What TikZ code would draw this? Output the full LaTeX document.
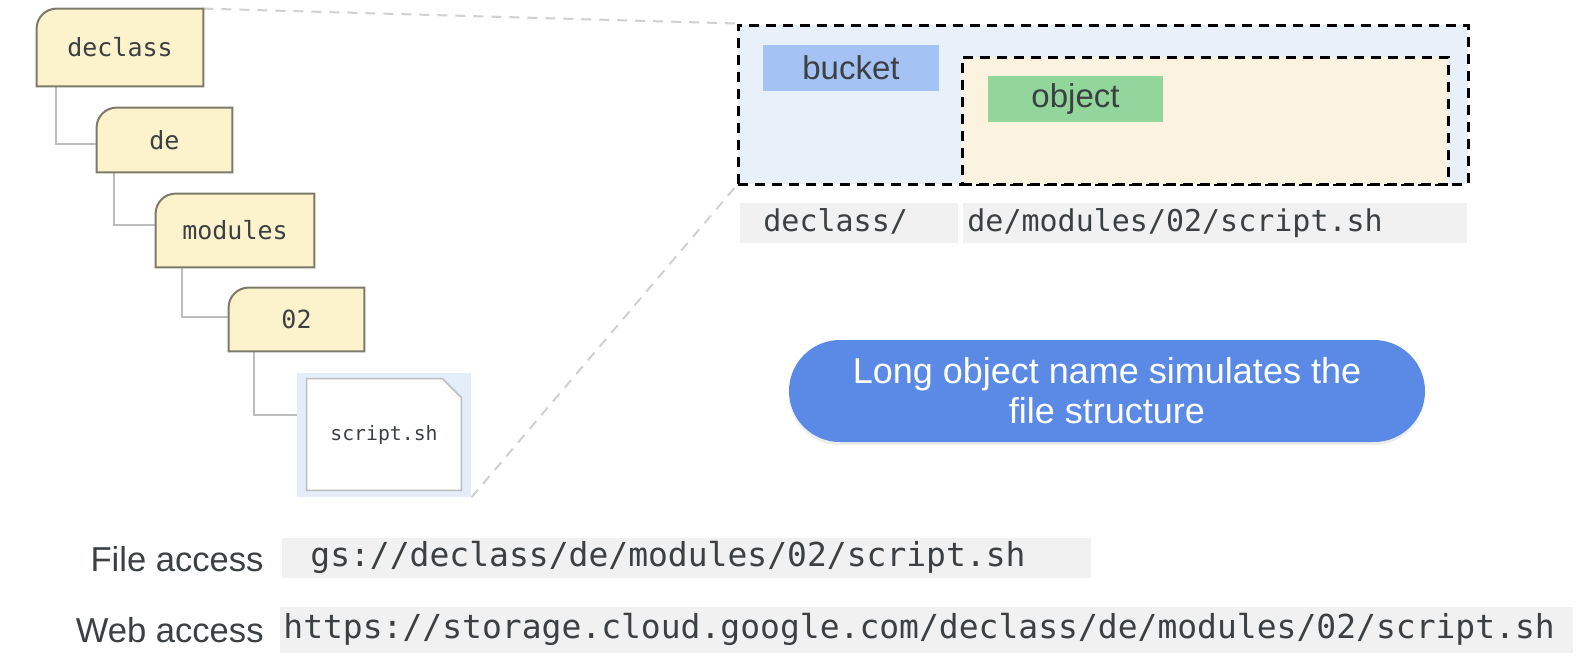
\documentclass[tikz,border=0pt]{standalone}
\usepackage{fontspec}
\setmainfont{Liberation Sans}
\setmonofont{DejaVu Sans Mono}
\usetikzlibrary{backgrounds, shadows}

\definecolor{foldfill}{HTML}{FCF2CC}
\definecolor{folddraw}{HTML}{7D7A6A}
\definecolor{treegray}{HTML}{BDBDBD}
\definecolor{zoomgray}{HTML}{D0D0D0}
\definecolor{filebg}{HTML}{E3EEF9}
\definecolor{bucketfill}{HTML}{E8F0FA}
\definecolor{objectfill}{HTML}{FCF2E0}
\definecolor{bucketblue}{HTML}{A4C2F4}
\definecolor{objectgreen}{HTML}{93D69C}
\definecolor{cellgray}{HTML}{F1F1F1}
\definecolor{pillblue}{HTML}{5A8AE6}
\definecolor{inkgray}{HTML}{3C4043}

\tikzset{
  folder/.style 2 args={minimum width=#1, minimum height=#2, inner sep=0pt, text=inkgray,
    font=\ttfamily\fontsize{12.5}{14}\selectfont},
  tree/.style={draw=treegray, line width=1pt},
  zoomline/.style={draw=zoomgray, line width=1pt, dash pattern=on 5pt off 4pt},
  dashbox/.style={draw=black, line width=1.5pt, dash pattern=on 5pt off 3.5pt, inner sep=0pt},
  tag/.style={minimum width=#1, minimum height=23pt, inner sep=0pt, text=inkgray,
    font=\fontsize{16.5}{18}\selectfont},
  cell/.style={fill=cellgray, anchor=west, align=left, inner ysep=0pt, text=inkgray,
    text height=11pt, text depth=3pt}
}
\newcommand{\foldershape}[1]{%
  \filldraw[fill=foldfill, draw=folddraw, line width=1pt] (#1.south west)
    -- ([yshift=-10pt]#1.north west) arc[start angle=180, end angle=90, radius=10pt]
    -- (#1.north east) -- (#1.south east) -- cycle;}

\begin{document}
\begin{tikzpicture}[x=0.5pt, y=-0.5pt]
  \useasboundingbox (0,0) rectangle (1576,660);

  % folder tree
  \node[folder={83pt}{38.5pt}] (fdeclass) at (120,47.5) {declass};
  \node[folder={67.5pt}{32pt}] (fde) at (164.5,140) {de};
  \node[folder={79pt}{36.5pt}] (fmodules) at (235,230.5) {modules};
  \node[folder={67.5pt}{31.5pt}] (f02) at (296.5,319.5) {02};
  \node[minimum width=87pt, minimum height=62pt, inner sep=0pt, text=inkgray,
    font=\ttfamily\fontsize{9.9}{11}\selectfont] (script) at (384,435) {script.sh};

  % bucket and object
  \node[dashbox, fill=bucketfill, minimum width=365pt, minimum height=79.5pt] (bucketbox) at (1103,104.5) {};
  \node[dashbox, fill=objectfill, minimum width=243pt, minimum height=63.5pt] (objectbox) at (1205,120.5) {};
  \node[tag=88pt, fill=bucketblue] (bucket) at (851,68) {bucket};
  \node[tag=87.5pt, fill=objectgreen] (object) at (1075.5,99) {object};

  \node[cell, text width=86pt, inner xsep=11.5pt, minimum height=20pt, font=\ttfamily\fontsize{15}{17}\selectfont]
    (bucketname) at (740,223) {declass/};
  \node[cell, text width=248pt, inner xsep=2pt, minimum height=20pt, font=\ttfamily\fontsize{15}{17}\selectfont]
    (objectname) at (963,223) {de/modules/02/script.sh};

  \node[fill=pillblue, text=white, rounded corners=25.5pt, minimum width=318pt, minimum height=51pt,
    align=center, font=\fontsize{18}{20}\selectfont,
    drop shadow={opacity=0.15, shadow xshift=0pt, shadow yshift=-1.5pt}]
    (note) at (1107,391) {Long object name simulates the\\file structure};

  % access paths
  \node[anchor=east, inner sep=0pt, text=inkgray, font=\fontsize{17.3}{19}\selectfont] (fileacc) at (264,559) {File access};
  \node[anchor=east, inner sep=0pt, text=inkgray, font=\fontsize{17.3}{19}\selectfont] (webacc) at (264,630) {Web access};
  \node[cell, text width=376.5pt, inner xsep=14pt, minimum height=20pt, font=\ttfamily\fontsize{16.5}{18}\selectfont]
    (fileurl) at (282,558) {gs://declass/de/modules/02/script.sh};
  \node[cell, text width=643.5pt, inner xsep=1.5pt, minimum height=23pt, font=\ttfamily\fontsize{16.5}{18}\selectfont]
    (weburl) at (280,630) {https://storage.cloud.google.com/declass/de/modules/02/script.sh};

  \begin{scope}[on background layer]
    \draw[zoomline] (fdeclass.north east) -- (bucketbox.north west);
    \draw[zoomline] (script.south east) -- (bucketbox.south west);
    \draw[tree] ([xshift=9.5pt]fdeclass.south west) |- ([yshift=-2pt]fde.west);
    \draw[tree] ([xshift=8.5pt]fde.south west) |- ([yshift=2.75pt]fmodules.west);
    \draw[tree] ([xshift=13pt]fmodules.south west) |- ([yshift=1.25pt]f02.west);
    \draw[tree] ([xshift=12.5pt]f02.south west) |- ([yshift=10pt]script.west);
    \foreach \f in {fdeclass, fde, fmodules, f02} {\foldershape{\f}}
    \fill[filebg] (script.south west) rectangle (script.north east);
    \filldraw[fill=white, draw=treegray, line width=0.75pt]
      ([shift={(5pt,3.5pt)}]script.south west) -- ([shift={(5pt,-3pt)}]script.north west)
      -- ([shift={(-14.5pt,-3pt)}]script.north east) -- ([shift={(-5pt,-12.5pt)}]script.north east)
      -- ([shift={(-5pt,3.5pt)}]script.south east) -- cycle;
  \end{scope}
\end{tikzpicture}
\end{document}
